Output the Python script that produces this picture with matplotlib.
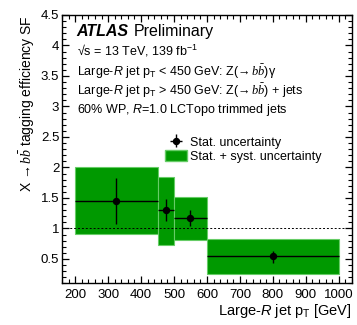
import numpy as np
import matplotlib
matplotlib.use("Agg")
import matplotlib.pyplot as plt
from matplotlib.patches import Patch
from matplotlib.ticker import MultipleLocator
from matplotlib.transforms import offset_copy

# ---- data ----
bin_lo = [200, 450, 500, 600]
bin_hi = [450, 500, 600, 1000]
sf = [1.45, 1.30, 1.17, 0.545]
stat_up = [1.82, 1.48, 1.30, 0.635]
stat_dn = [1.08, 1.12, 1.04, 0.44]
tot_up = [2.00, 1.85, 1.51, 0.835]
tot_dn = [0.915, 0.735, 0.81, 0.25]

plt.rcParams['font.family'] = ['Liberation Sans', 'DejaVu Sans']
plt.rcParams['mathtext.fontset'] = 'custom'
plt.rcParams['mathtext.rm'] = 'Liberation Sans'
plt.rcParams['mathtext.it'] = 'Liberation Serif:italic'
plt.rcParams['mathtext.sf'] = 'Liberation Sans:italic'

GREEN = '#009900'
EDGE = '#66cc66'

fig = plt.figure(figsize=(3.57, 3.25), dpi=100)
ax = fig.add_axes([0.1737, 0.128, 0.812, 0.826])

lo = np.array(bin_lo)
hi = np.array(bin_hi)
x = (lo + hi) / 2
y = np.array(sf)

for i in range(len(x)):
    ax.bar(lo[i], tot_up[i] - tot_dn[i], width=hi[i] - lo[i], bottom=tot_dn[i],
           align='edge', color=GREEN, edgecolor=EDGE, linewidth=0.8, zorder=1)

ax.axhline(1.0, color='black', linestyle=(0, (2, 2)), linewidth=0.7, zorder=2)

eb = ax.errorbar(x, y, xerr=[x - lo, hi - x],
                 yerr=[y - np.array(stat_dn), np.array(stat_up) - y],
                 fmt='o', color='black', markersize=4.3, elinewidth=1.0,
                 capsize=0, zorder=3)

ax.set_xlim(160, 1040)
ax.set_ylim(0.1, 4.5)
ax.xaxis.set_major_locator(MultipleLocator(100))
ax.xaxis.set_minor_locator(MultipleLocator(20))
ax.yaxis.set_minor_locator(MultipleLocator(0.1))
ax.set_yticks([0.5, 1, 1.5, 2, 2.5, 3, 3.5, 4, 4.5])
ax.set_yticklabels(['0.5', '1', '1.5', '2', '2.5', '3', '3.5', '4', '4.5'])
ax.tick_params(which='both', direction='in', top=True, right=True, labelsize=9.5)
ax.tick_params(which='major', length=5, width=0.9)
ax.tick_params(which='minor', length=2.8, width=0.8)
ax.tick_params(axis='y', pad=2)
ax.tick_params(axis='x', pad=4)
for s in ax.spines.values():
    s.set_linewidth(1.0)

ax.set_xlabel(r'Large-$\mathsf{R}$ jet p$_\mathrm{T}$ [GeV]', fontsize=10.5,
              loc='right', labelpad=1)
ax.set_ylabel(r'X →$\,b\bar{b}$ tagging efficiency SF', fontsize=10,
              loc='top', labelpad=3)

# ---- annotations ----
tx = 0.05
t_atlas = ax.text(tx, 0.921, 'ATLAS', transform=ax.transAxes, fontsize=11.5,
                  fontweight='bold', fontstyle='italic', va='baseline')
fig.canvas.draw()
w = t_atlas.get_window_extent().width
ax.text(tx, 0.921, 'Preliminary', fontsize=11.5, va='baseline',
        transform=offset_copy(ax.transAxes, fig=fig, x=(w + 5) * 72 / fig.dpi, units='points'))
ax.text(tx, 0.851, '√s = 13 TeV, 139 fb$^{-1}$', transform=ax.transAxes,
        fontsize=9, va='baseline')
ax.text(tx, 0.772, r'Large-$\mathsf{R}$ jet p$_\mathrm{T}$ < 450 GeV: Z(→$\,b\bar{b}$)γ',
        transform=ax.transAxes, fontsize=9, va='baseline')
ax.text(tx, 0.700, r'Large-$\mathsf{R}$ jet p$_\mathrm{T}$ > 450 GeV: Z(→$\,b\bar{b}$) + jets',
        transform=ax.transAxes, fontsize=9, va='baseline')
ax.text(tx, 0.636, r'60% WP, $\mathsf{R}$=1.0 LCTopo trimmed jets',
        transform=ax.transAxes, fontsize=9, va='baseline')

handles = [eb, Patch(facecolor=GREEN, edgecolor=EDGE)]
labels = ['Stat. uncertainty', 'Stat. + syst. uncertainty']
ax.legend(handles, labels, loc='upper left', bbox_to_anchor=(0.355, 0.55),
          frameon=False, fontsize=9, handlelength=1.8, handletextpad=0.2,
          handleheight=1.0, labelspacing=0.1, borderpad=0, borderaxespad=0)

fig.savefig('out.png', dpi=100)
